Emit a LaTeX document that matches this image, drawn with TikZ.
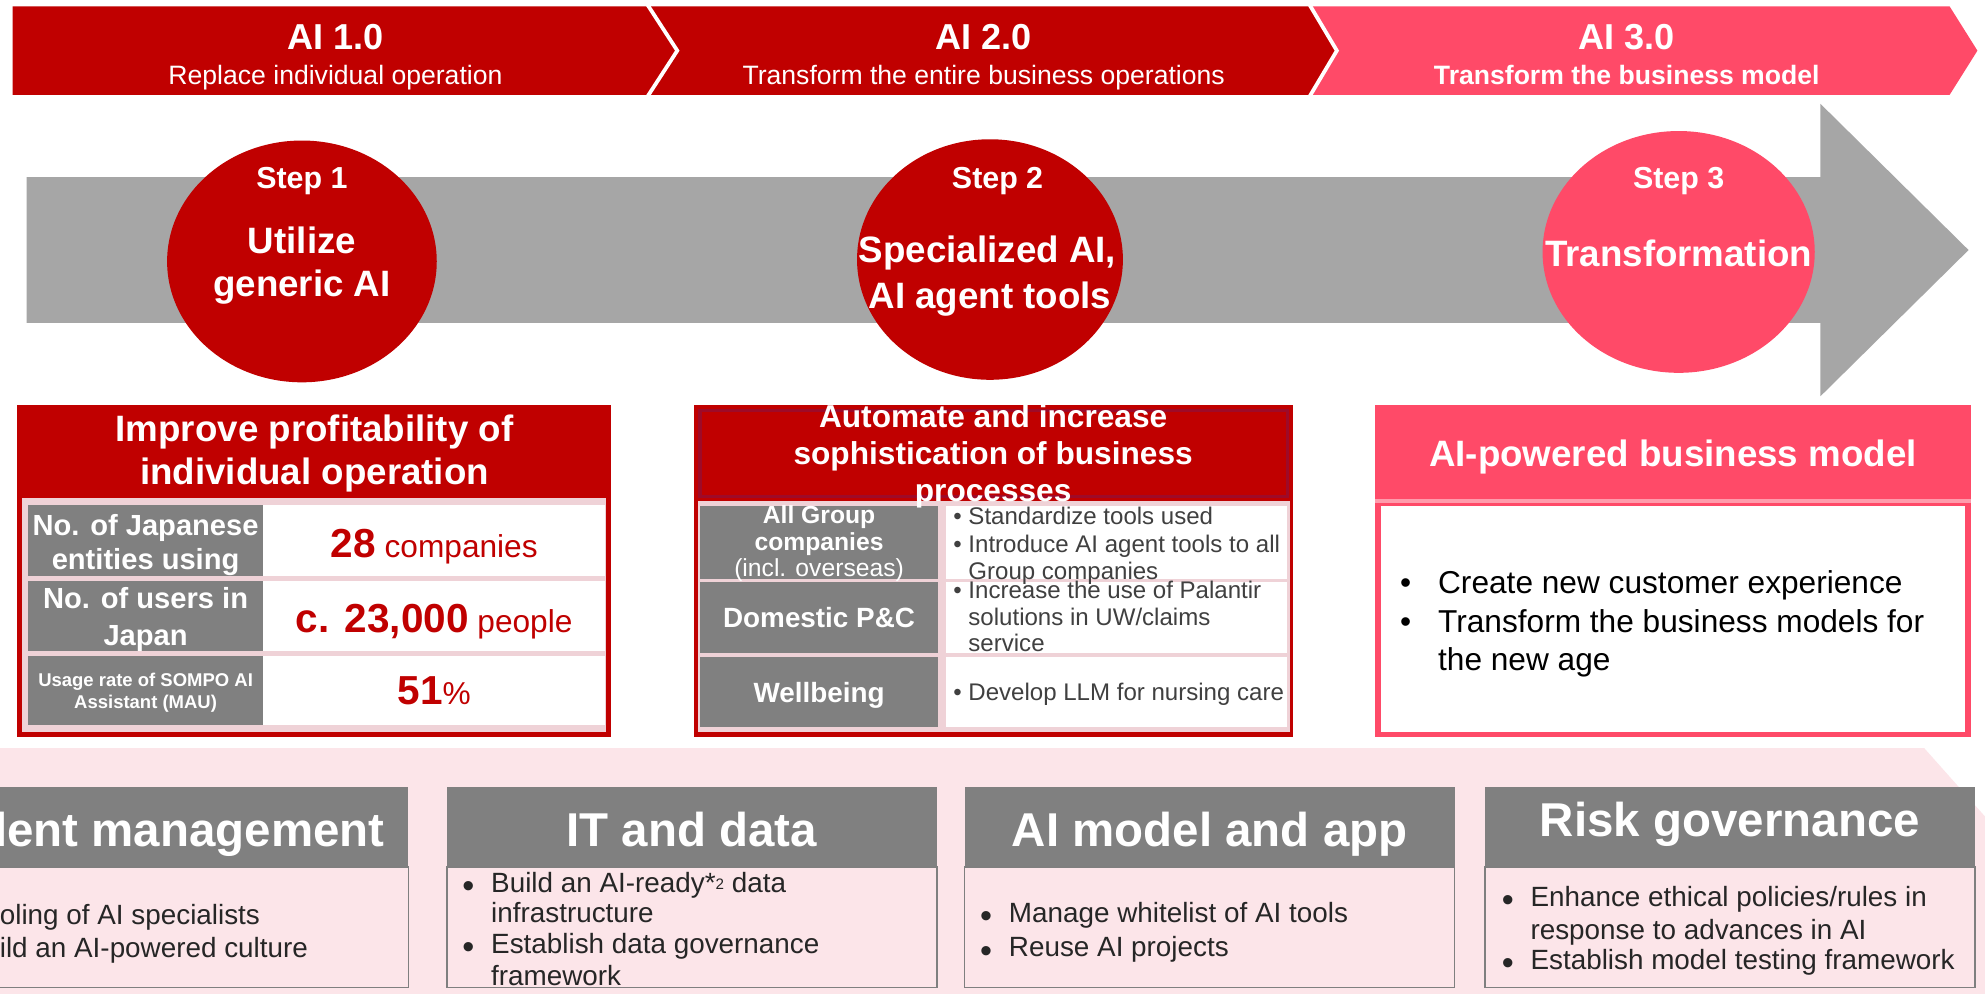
\documentclass[tikz,border=0pt]{standalone}
\usepackage{fontspec}
\setmainfont{Liberation Sans}
\newcommand\fsz[1]{\fontsize{#1}{#1}\selectfont}
\definecolor{aired}{HTML}{C00000}
\definecolor{aipink}{HTML}{FF4A68}
\definecolor{arrowgray}{HTML}{A6A6A6}
\definecolor{cellgray}{HTML}{808080}
\definecolor{gapink}{HTML}{EFD2D7}
\definecolor{bgpink}{HTML}{FCE5E9}
\definecolor{hdrborder}{HTML}{9E0A28}
\definecolor{bodytext}{HTML}{262626}
\definecolor{celltext}{HTML}{404040}
\definecolor{boxline}{HTML}{7F7F7F}

\begin{document}
\begin{tikzpicture}[x=1pt,y=-1pt,
  lbl/.style={inner sep=0pt, outer sep=0pt, anchor=base},
  wlbl/.style={lbl, text=white},
  lwest/.style={inner sep=0pt, outer sep=0pt, anchor=base west},
  cellbullet/.style={lwest, text=celltext, font=\fsz{19}},
  bigbullet/.style={lwest, text=black, font=\fsz{25}},
  foundbullet/.style={lwest, text=bodytext, font=\fsz{22}},
  founddot/.style={inner sep=0pt, outer sep=0pt, anchor=base, text=bodytext, font=\fsz{27}},
  graycell/.style={fill=cellgray},
  whitecell/.style={fill=white},
  foundhead/.style={fill=cellgray},
  foundbody/.style={draw=boxline, fill=bgpink, line width=1.2pt},
  foundtitle/.style={wlbl, font=\fsz{37.5}\bfseries}
]
\useasboundingbox (0,0) rectangle (1568,785);
\fill[white] (0,0) rectangle (1568,785);
\clip (0,0) rectangle (1568,785);

% ---------- phase banner ----------
\fill[aired] (10,5) -- (512,5) -- (535,40) -- (512,75) -- (10,75) -- cycle;
\fill[aired] (512,5) -- (1035,5) -- (1056,40) -- (1035,75) -- (512,75) -- (535,40) -- cycle;
\fill[aipink] (1035,5) -- (1540,5) -- (1562,40) -- (1540,75) -- (1035,75) -- (1056,40) -- cycle;
\draw[white, line width=3pt] (511,3) -- (535,40) -- (511,77);
\draw[white, line width=3pt] (1034,3) -- (1056,40) -- (1034,77);

\node[wlbl, font=\fsz{28.5}\bfseries] (ai1) at (265,39.3) {AI 1.0};
\node[wlbl, font=\fsz{21}] (ai1s) at (265,66.5) {Replace individual operation};
\node[wlbl, font=\fsz{28.5}\bfseries] (ai2) at (777,39.3) {AI 2.0};
\node[wlbl, font=\fsz{21}] (ai2s) at (777,66.5) {Transform the entire business operations};
\node[wlbl, font=\fsz{28.5}\bfseries] (ai3) at (1285,39.3) {AI 3.0};
\node[wlbl, font=\fsz{21}\bfseries] (ai3s) at (1285,66.5) {Transform the business model};

% ---------- progress arrow ----------
\fill[arrowgray] (21,140) -- (1438,140) -- (1438,82) -- (1555,197.5) -- (1438,313)
  -- (1438,255) -- (21,255) -- cycle;

% ---------- steps ----------
\fill[aired] (238.5,206.5) ellipse [x radius=106.5pt, y radius=95.5pt];
\fill[aired] (782,205) ellipse [x radius=105pt, y radius=95pt];
\fill[aipink] (1326,199) ellipse [x radius=107.5pt, y radius=95.5pt];

\node[wlbl, font=\fsz{24}\bfseries] (s1) at (238.5,148.6) {Step 1};
\node[wlbl, font=\fsz{29}\bfseries] (s1a) at (238.5,200.5) {Utilize};
\node[wlbl, font=\fsz{29}\bfseries] (s1b) at (238.5,234.5) {generic AI};
\node[wlbl, font=\fsz{24}\bfseries] (s2) at (788,148.6) {Step 2};
\node[wlbl, font=\fsz{29}\bfseries] (s2a) at (780,207.5) {Specialized AI,};
\node[wlbl, font=\fsz{29}\bfseries] (s2b) at (782,244) {AI agent tools};
\node[wlbl, font=\fsz{24}\bfseries] (s3) at (1326,148.6) {Step 3};
\node[wlbl, font=\fsz{29}\bfseries] (s3a) at (1326,210.5) {Transformation};

% ---------- box 1: individual operation ----------
\fill[aired] (13.5,320) rectangle (483,582);
\fill[gapink] (17.5,393) rectangle (479,578);
\fill[graycell] (22,399) rectangle (208,455);
\fill[whitecell] (208,399) rectangle (478,455);
\fill[graycell] (22,459) rectangle (208,514);
\fill[whitecell] (208,459) rectangle (478,514);
\fill[graycell] (22,518) rectangle (208,573);
\fill[whitecell] (208,518) rectangle (478,573);

\node[wlbl, font=\fsz{29}\bfseries] (b1h1) at (248.5,349) {Improve profitability of};
\node[wlbl, font=\fsz{29}\bfseries] (b1h2) at (248.5,383) {individual operation};

\node[wlbl, font=\fsz{23}\bfseries] (r1a) at (115,423) {No. of Japanese};
\node[wlbl, font=\fsz{23}\bfseries] (r1b) at (115,450) {entities using};
\node[wlbl, font=\fsz{23}\bfseries] (r2a) at (115,481) {No. of users in};
\node[wlbl, font=\fsz{23}\bfseries] (r2b) at (115,510) {Japan};
\node[wlbl, font=\fsz{14.6}\bfseries] (r3a) at (115,542) {Usage rate of SOMPO AI};
\node[wlbl, font=\fsz{14.6}\bfseries] (r3b) at (115,560) {Assistant (MAU)};

\node[lbl, text=aired] (v1) at (343,440.5) {{\fsz{32}\bfseries 28}{\fsz{25} companies}};
\node[lbl, text=aired] (v2) at (343,500) {{\fsz{32}\bfseries c. 23,000}{\fsz{25} people}};
\node[lbl, text=aired] (v3) at (343,556.5) {{\fsz{32}\bfseries 51}{\fsz{25}\%}};

% ---------- box 2: business processes ----------
\fill[aired] (548,320) rectangle (1021,582);
\draw[hdrborder, line width=2.5pt, fill=aired] (553,324) rectangle (1017,392);
\fill[gapink] (551,396) rectangle (1019,578);
\fill[graycell] (553,400) rectangle (741,457);
\fill[whitecell] (747,400) rectangle (1017,457);
\fill[graycell] (553,460) rectangle (741,516);
\fill[whitecell] (747,460) rectangle (1017,516);
\fill[graycell] (553,519) rectangle (741,574);
\fill[whitecell] (747,519) rectangle (1017,574);

\node[wlbl, font=\fsz{25}\bfseries] (b2h1) at (784.5,338) {Automate and increase};
\node[wlbl, font=\fsz{25}\bfseries] (b2h2) at (784.5,367) {sophistication of business};
\node[wlbl, font=\fsz{25}\bfseries] (b2h3) at (784.5,396) {processes};

\node[wlbl, font=\fsz{19.5}\bfseries] (g1a) at (647,413.5) {All Group};
\node[wlbl, font=\fsz{19.5}\bfseries] (g1b) at (647,434.5) {companies};
\node[wlbl, font=\fsz{19.5}] (g1c) at (647,455.5) {(incl. overseas)};
\node[wlbl, font=\fsz{22}\bfseries] (g2) at (647,496) {Domestic P\&C};
\node[wlbl, font=\fsz{22}\bfseries] (g3) at (647,555) {Wellbeing};

\node[cellbullet] (p1d) at (753,414.5) {•};
\node[cellbullet] (p1) at (765,414.5) {Standardize tools used};
\node[cellbullet] (p2d) at (753,436.5) {•};
\node[cellbullet] (p2) at (765,436.5) {Introduce AI agent tools to all};
\node[cellbullet] (p2b) at (765,458) {Group companies};
\node[cellbullet] (p3d) at (753,472.5) {•};
\node[cellbullet] (p3) at (765,472.5) {Increase the use of Palantir};
\node[cellbullet] (p3b) at (765,494) {solutions in UW/claims};
\node[cellbullet] (p3c) at (765,515) {service};
\node[cellbullet] (p4d) at (753,553) {•};
\node[cellbullet] (p4) at (765,553) {Develop LLM for nursing care};

% ---------- box 3: business model ----------
\fill[aipink] (1086,320) rectangle (1557,582);
\fill[aipink!55!white] (1086,394.5) rectangle (1557,397);
\fill[white] (1091,400) rectangle (1552,578);
\node[wlbl, font=\fsz{29}\bfseries] (b3h) at (1321.5,368.5) {AI-powered business model};
\node[bigbullet] (q1d) at (1106,468.5) {•};
\node[bigbullet] (q1) at (1136,468.5) {Create new customer experience};
\node[bigbullet] (q2d) at (1106,499.5) {•};
\node[bigbullet] (q2) at (1136,499.5) {Transform the business models for};
\node[bigbullet] (q2b) at (1136,530) {the new age};

% ---------- foundations ----------
\fill[bgpink] (0,591) -- (1520,591) -- (1568,645) -- (1568,785) -- (0,785) -- cycle;

% talent management
\fill[foundhead] (-65,621.5) rectangle (322.5,685);
\draw[foundbody] (-65,685) rectangle (322.5,780);
\node[foundtitle] (fa) at (129,669) {Talent management};
\node[founddot] (fa1d) at (-45,735) {•};
\node[foundbullet] (fa1) at (-27,730.5) {Pooling of AI specialists};
\node[founddot] (fa2d) at (-45,761) {•};
\node[foundbullet] (fa2) at (-27,756.5) {Build an AI-powered culture};

% IT and data
\fill[foundhead] (353,621.5) rectangle (740,685);
\draw[foundbody] (353,685) rectangle (740,780);
\node[foundtitle] (fb) at (546.5,669) {IT and data};
\node[founddot] (fb1d) at (370,709) {•};
\node[foundbullet] (fb1) at (388,705) {Build an AI-ready*\raisebox{2pt}{\fsz{12}2} data};
\node[foundbullet] (fb1b) at (388,729) {infrastructure};
\node[founddot] (fb2d) at (370,757) {•};
\node[foundbullet] (fb2) at (388,753) {Establish data governance};
\node[foundbullet] (fb2b) at (388,778.5) {framework};

% AI model and app
\fill[foundhead] (762,621.5) rectangle (1149,685);
\draw[foundbody] (762,685) rectangle (1149,780);
\node[foundtitle] (fc) at (955.5,669) {AI model and app};
\node[founddot] (fc1d) at (779,733) {•};
\node[foundbullet] (fc1) at (797,728.5) {Manage whitelist of AI tools};
\node[founddot] (fc2d) at (779,760) {•};
\node[foundbullet] (fc2) at (797,755.5) {Reuse AI projects};

% risk governance
\fill[foundhead] (1173,621.5) rectangle (1560,685);
\draw[foundbody] (1173,685) rectangle (1560,780);
\node[foundtitle] (fd) at (1366.5,661) {Risk governance};
\node[founddot] (fd1d) at (1191,720) {•};
\node[foundbullet] (fd1) at (1209,716) {Enhance ethical policies/rules in};
\node[foundbullet] (fd1b) at (1209,742) {response to advances in AI};
\node[founddot] (fd2d) at (1191,770) {•};
\node[foundbullet] (fd2) at (1209,765.5) {Establish model testing framework};
\end{tikzpicture}
\end{document}
